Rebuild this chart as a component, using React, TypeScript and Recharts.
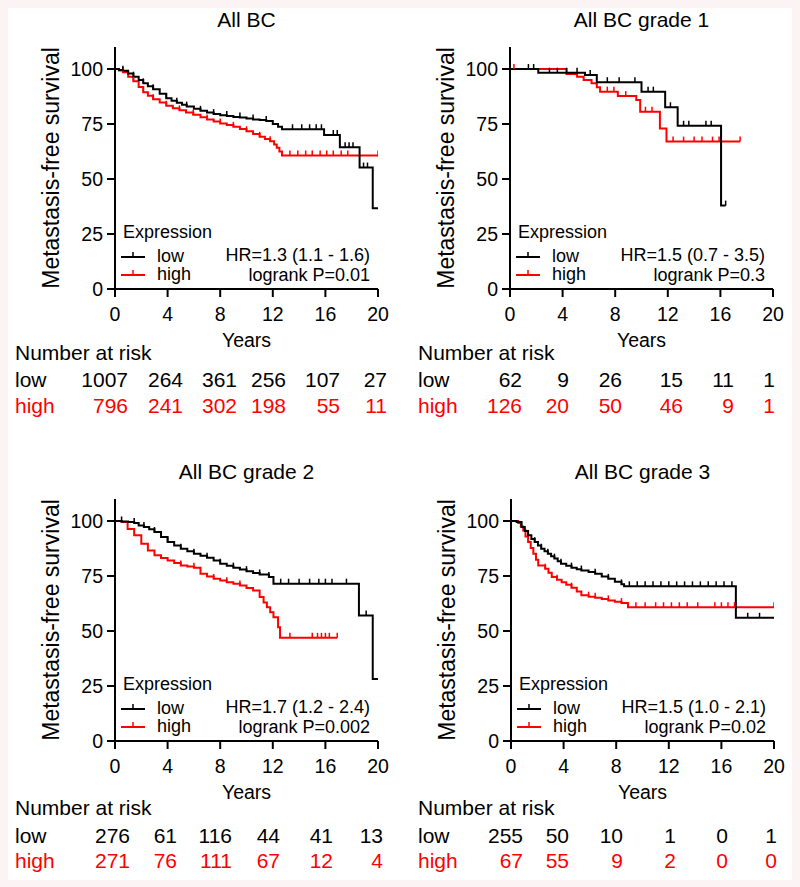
import { LineChart, Line, XAxis, YAxis, Label } from "recharts";

const YEAR_TICKS = [0, 4, 8, 12, 16, 20];
const SURV_TICKS = [0, 25, 50, 75, 100];

// Kaplan-Meier steps: [years, survival %, censored?]
const allLow = [
  [0, 100], [0.3, 99.6], [0.6, 99.2, 1], [1, 98], [1.4, 96.5, 1], [1.8, 95], [2.15, 93.5, 1], [2.5, 92.2],
  [2.9, 90.8, 1], [3.4, 88.8], [3.9, 86.7, 1], [4.3, 85.6], [4.7, 84.7, 1], [5.1, 83.7], [5.45, 82.9, 1],
  [6, 81.9], [6.5, 81, 1], [7, 80.2], [7.5, 79.5, 1], [8, 79], [8.5, 78.6, 1], [9, 78.2], [9.5, 77.9, 1],
  [10, 77.5], [10.5, 77.1, 1], [11, 76.8], [11.5, 76.4, 1], [12, 75], [12.4, 73.8], [12.7, 72.6],
  [13.5, 72.6, 1], [14.2, 72.6, 1], [14.8, 72.6, 1], [15.3, 72.6, 1], [15.7, 72.6, 1], [15.9, 70],
  [16.6, 70, 1], [16.9, 70, 1], [17.1, 64.4], [17.5, 64.4, 1], [17.8, 64.4, 1], [18.1, 64.4, 1],
  [18.6, 55.2], [18.9, 55.2, 1], [19.2, 55.2, 1], [19.6, 36.7], [20, 36.7],
];
const allHigh = [
  [0, 100], [0.3, 99.3], [0.6, 98.5, 1], [1, 96.5], [1.4, 94.4, 1], [1.8, 91.8], [2.15, 89.4, 1], [2.5, 87.8],
  [2.9, 86.3, 1], [3.4, 84.8], [3.9, 83.3, 1], [4.4, 82.2], [4.9, 81.2, 1], [5.4, 80.2], [5.95, 79.2, 1],
  [6.5, 78.1], [7, 77, 1], [7.5, 76.1], [8, 75.2, 1], [8.5, 74.5], [9, 73.7, 1], [9.5, 72.7], [10, 71.7, 1],
  [10.5, 70.5], [11, 69.2, 1], [11.4, 68.2], [11.8, 67.2, 1], [12.1, 65.7], [12.3, 64.2], [12.5, 62.5],
  [12.7, 60.7], [13.3, 60.7, 1], [13.9, 60.7, 1], [14.5, 60.7, 1], [15, 60.7, 1], [15.6, 60.7, 1],
  [16.1, 60.7, 1], [16.6, 60.7, 1], [17.2, 60.7, 1], [17.7, 60.7, 1], [20, 60.7, 1],
];

const g1Low = [
  [0, 100], [1.4, 100, 1], [1.8, 100, 1], [2.15, 98.3], [3, 98.3, 1], [3.6, 98.3, 1], [4.3, 98.3, 1],
  [5.1, 98.3, 1], [5.7, 97.3], [6.1, 97.3, 1], [6.6, 94], [7.4, 94, 1], [8.3, 94, 1], [9.5, 94, 1],
  [10, 89.7], [10.5, 89.7, 1], [10.9, 89.7, 1], [11.8, 82.6], [12.2, 82.6, 1], [12.75, 74.2],
  [13.2, 74.2, 1], [13.6, 74.2, 1], [14.9, 74.2, 1], [15.3, 74.2, 1], [16.05, 37.9], [16.4, 37.9, 1],
];
const g1High = [
  [0, 100], [0.3, 100, 1], [4.3, 97.7], [5.1, 96.5], [5.6, 95], [6.2, 93.5], [6.6, 91.7], [6.85, 89.7],
  [7.4, 89.7, 1], [7.9, 89.7, 1], [8.2, 87.7], [8.8, 87.7, 1], [9.6, 85.9], [9.9, 80.6], [10.3, 80.6, 1],
  [10.8, 80.6, 1], [11.4, 73], [11.9, 67], [12.4, 67, 1], [13.2, 67, 1], [14, 67, 1], [14.6, 67, 1],
  [15.4, 67, 1], [15.9, 67, 1], [17.5, 67, 1],
];

const g2Low = [
  [0, 100], [0.5, 99.8, 1], [1, 99.5], [1.46, 99.1, 1], [1.8, 98], [2.2, 97.3, 1], [2.6, 96.2], [3, 95, 1],
  [3.5, 92.7], [4, 90.4, 1], [4.5, 88.9], [5, 87.4, 1], [5.5, 86.2], [6, 85.1, 1], [6.5, 84.2], [7, 83.3, 1],
  [7.5, 82], [8, 80.6, 1], [8.5, 79.7], [9, 78.8, 1], [9.5, 78], [10, 77.2, 1], [10.5, 76.4], [11, 75.7, 1],
  [11.7, 74.5, 1], [12.05, 71.5], [12.6, 71.5, 1], [13.2, 71.5, 1], [14, 71.5, 1], [14.8, 71.5, 1],
  [15.5, 71.5, 1], [16, 71.5, 1], [16.5, 71.5, 1], [17.6, 71.5, 1], [18.55, 57.1], [19.1, 57.1, 1],
  [19.6, 28.2], [20, 28.2],
];
const g2High = [
  [0, 100], [0.5, 99.5], [0.96, 96.4], [1.46, 93.5], [2, 89.7], [2.5, 86.6], [3, 84.4], [3.5, 83.2],
  [4, 82.1], [4.5, 80.9], [5, 79.8, 1], [5.5, 79.3], [6, 78.8, 1], [6.5, 76], [7, 74.8], [7.5, 73.7, 1],
  [8, 73], [8.5, 72.2, 1], [9, 71.5], [9.5, 70.7, 1], [10, 69.6], [10.5, 68.4], [11, 65.4], [11.3, 63],
  [11.55, 60.8], [11.8, 58.5], [12.05, 56.3], [12.4, 51.7], [12.55, 46.9], [13.3, 46.9, 1], [15, 46.9, 1],
  [15.4, 46.9, 1], [15.7, 46.9, 1], [16, 46.9, 1], [16.3, 46.9, 1], [16.9, 46.9, 1],
];

const g3Low = [
  [0, 100], [0.43, 99.5], [0.8, 97.3, 1], [1.05, 95.5], [1.3, 93.5, 1], [1.55, 91.8], [1.8, 90.4, 1],
  [2.05, 88.9], [2.3, 87.4, 1], [2.55, 86.2], [2.8, 85.1, 1], [3.05, 84], [3.3, 82.9, 1], [3.55, 81.7],
  [3.8, 80.6, 1], [4.2, 79.7], [4.6, 78.8, 1], [5, 78.1], [5.35, 77.5, 1], [5.9, 76.8], [6.4, 76, 1],
  [6.9, 74.8], [7.4, 73.7, 1], [7.9, 72.4], [8.4, 71.2, 1], [8.6, 70.3], [9, 70.3, 1], [9.6, 70.3, 1],
  [10.2, 70.3, 1], [10.8, 70.3, 1], [11.4, 70.3, 1], [12, 70.3, 1], [12.6, 70.3, 1], [13.2, 70.3, 1],
  [13.8, 70.3, 1], [14.4, 70.3, 1], [15, 70.3, 1], [15.6, 70.3, 1], [16.2, 70.3, 1], [16.8, 70.3, 1],
  [17.1, 56], [18, 56, 1], [18.9, 56, 1], [20, 56],
];
const g3High = [
  [0, 100], [0.55, 99.1], [0.75, 97.5], [0.93, 95.7], [1.1, 93], [1.3, 90.4], [1.5, 87.7], [1.7, 85.1],
  [1.9, 82.4], [2.07, 79.8], [2.6, 78.3, 1], [2.85, 76.5], [3.1, 74.5], [3.5, 73.3, 1], [3.85, 72.2],
  [4.2, 71], [4.6, 69.7, 1], [5, 67.9], [5.35, 66.2], [5.9, 65.6, 1], [6.4, 65.1, 1], [6.9, 64.5],
  [7.4, 63.9, 1], [7.9, 63.3], [8.4, 62.7, 1], [8.9, 60.8], [9.5, 60.8, 1], [10.2, 60.8, 1], [11, 60.8, 1],
  [11.6, 60.8, 1], [12.2, 60.8, 1], [12.8, 60.8, 1], [13.4, 60.8, 1], [14.2, 60.8, 1], [15.5, 60.8, 1],
  [16, 60.8, 1], [16.5, 60.8, 1], [17, 60.8, 1], [20, 60.8, 1],
];

const TITLES = ["All BC", "All BC grade 1", "All BC grade 2", "All BC grade 3"];
const HR_TEXT = ["HR=1.3 (1.1 - 1.6)", "HR=1.5 (0.7 - 3.5)", "HR=1.7 (1.2 - 2.4)", "HR=1.5 (1.0 - 2.1)"];
const P_TEXT = ["logrank P=0.01", "logrank P=0.3", "logrank P=0.002", "logrank P=0.02"];

const RISK_LOW = [
  ["1007", "264", "361", "256", "107", "27"],
  ["62", "9", "26", "15", "11", "1"],
  ["276", "61", "116", "44", "41", "13"],
  ["255", "50", "10", "1", "0", "1"],
];
const RISK_HIGH = [
  ["796", "241", "302", "198", "55", "11"],
  ["126", "20", "50", "46", "9", "1"],
  ["271", "76", "111", "67", "12", "4"],
  ["67", "55", "9", "2", "0", "0"],
];

const CURVES = [
  [allLow, allHigh],
  [g1Low, g1High],
  [g2Low, g2High],
  [g3Low, g3High],
];

// layout
const FONT = '"Liberation Sans", Arial, Helvetica, sans-serif';
const RED = "#ff0000";
const W = 395;
const H = 359;
const PLOT_L = 115;
const PLOT_R = 378;
const PANEL_POS = [
  { left: 0, top: 0 },
  { left: 395, top: 0 },
  { left: 0, top: 452 },
  { left: 396, top: 452 },
];
const RISK_COLS = [
  [128, 183, 237, 286, 340, 387],
  [127, 174, 227, 288, 339, 380],
  [130, 177, 232, 280, 333, 383],
  [127, 173, 227, 280, 332, 381],
];
const RISK_ROWS = [
  [360, 387, 413],
  [360, 387, 413],
  [363, 391, 416],
  [363, 391, 416],
];
const RISK_LABEL_X = [15, 23, 15, 22];

const toRows = (pts: number[][]) => pts.map(([t, s, c]) => ({ t, s, c: !!c }));

function CensorDot(props: any) {
  const { cx, cy, payload, stroke, index } = props;
  if (!payload || !payload.c || cx == null || cy == null) return <g key={`n${index}`} />;
  return <line key={`c${index}`} x1={cx} x2={cx} y1={cy - 5} y2={cy} stroke={stroke} strokeWidth={1.5} />;
}

function Panel({ i }: { i: number }) {
  const [low, high] = CURVES[i];
  const pos = PANEL_POS[i];
  const rows = RISK_ROWS[i];
  const cols = RISK_COLS[i];
  const tickStyle = { fill: "#000", fontSize: 19.5, fontFamily: FONT };
  const axisStyle = { stroke: "#000", strokeWidth: 2 };
  return (
    <div style={{ position: "absolute", left: pos.left, top: pos.top, width: W, height: 430 }}>
      <LineChart width={W} height={H} margin={{ top: 47, right: W - PLOT_R, left: 50, bottom: 10 }}>
        <XAxis
          dataKey="t"
          type="number"
          domain={[0, 20]}
          ticks={YEAR_TICKS}
          interval={0}
          allowDataOverflow
          height={60}
          tickSize={8}
          tickMargin={10}
          axisLine={axisStyle}
          tickLine={axisStyle}
          tick={tickStyle}
        >
          <Label value="Years" position="insideBottom" offset={2} style={{ fill: "#000", fontSize: 19.5, fontFamily: FONT }} />
        </XAxis>
        <XAxis xAxisId="top" orientation="top" type="number" domain={[0, 20]} height={0} tick={false} tickLine={false} axisLine={axisStyle} />
        <YAxis
          type="number"
          domain={[0, 110]}
          ticks={SURV_TICKS}
          interval={0}
          allowDataOverflow
          width={65}
          tickSize={8}
          tickMargin={4}
          axisLine={axisStyle}
          tickLine={axisStyle}
          tick={tickStyle}
        >
          <Label
            value="Metastasis-free survival"
            angle={-90}
            position="insideLeft"
            offset={1}
            style={{ fill: "#000", fontSize: 23, fontFamily: FONT, textAnchor: "middle" }}
          />
        </YAxis>
        <YAxis yAxisId="right" orientation="right" type="number" domain={[0, 110]} width={0} tick={false} tickLine={false} axisLine={axisStyle} />
        <Line data={toRows(high)} dataKey="s" type="stepAfter" stroke={RED} strokeWidth={2} dot={CensorDot} activeDot={false} isAnimationActive={false} />
        <Line data={toRows(low)} dataKey="s" type="stepAfter" stroke="#000" strokeWidth={2} dot={CensorDot} activeDot={false} isAnimationActive={false} />
      </LineChart>
      <svg width={W} height={430} style={{ position: "absolute", left: 0, top: 0, pointerEvents: "none" }} fontFamily={FONT}>
        <text x={(PLOT_L + PLOT_R) / 2} y={27} textAnchor="middle" fontSize={21}>{TITLES[i]}</text>
        {/* legend */}
        <text x={123} y={238} fontSize={18}>Expression</text>
        <line x1={121} x2={145} y1={257} y2={257} stroke="#000" strokeWidth={2} />
        <line x1={133} x2={133} y1={252} y2={257} stroke="#000" strokeWidth={1.5} />
        <text x={157} y={262} fontSize={18}>low</text>
        <line x1={121} x2={145} y1={275} y2={275} stroke={RED} strokeWidth={2} />
        <line x1={133} x2={133} y1={270} y2={275} stroke={RED} strokeWidth={1.5} />
        <text x={157} y={280} fontSize={18}>high</text>
        <text x={PLOT_R - 8} y={261} textAnchor="end" fontSize={18}>{HR_TEXT[i]}</text>
        <text x={PLOT_R - 8} y={281} textAnchor="end" fontSize={18}>{P_TEXT[i]}</text>
        {/* number at risk */}
        <text x={RISK_LABEL_X[i]} y={rows[0]} fontSize={21}>Number at risk</text>
        <text x={RISK_LABEL_X[i]} y={rows[1]} fontSize={21}>low</text>
        <text x={RISK_LABEL_X[i]} y={rows[2]} fontSize={21} fill={RED}>high</text>
        {RISK_LOW[i].map((v, k) => (
          <text key={`l${k}`} x={cols[k]} y={rows[1]} textAnchor="end" fontSize={21}>{v}</text>
        ))}
        {RISK_HIGH[i].map((v, k) => (
          <text key={`h${k}`} x={cols[k]} y={rows[2]} textAnchor="end" fontSize={21} fill={RED}>{v}</text>
        ))}
      </svg>
    </div>
  );
}

export default function App() {
  return (
    <div style={{ position: "absolute", left: 0, top: 0, width: 800, height: 887, background: "#fcf4f4" }}>
      <div style={{ position: "absolute", left: 8, top: 8, width: 784, height: 872, background: "#fff" }} />
      {TITLES.map((_, i) => (
        <Panel key={i} i={i} />
      ))}
    </div>
  );
}
